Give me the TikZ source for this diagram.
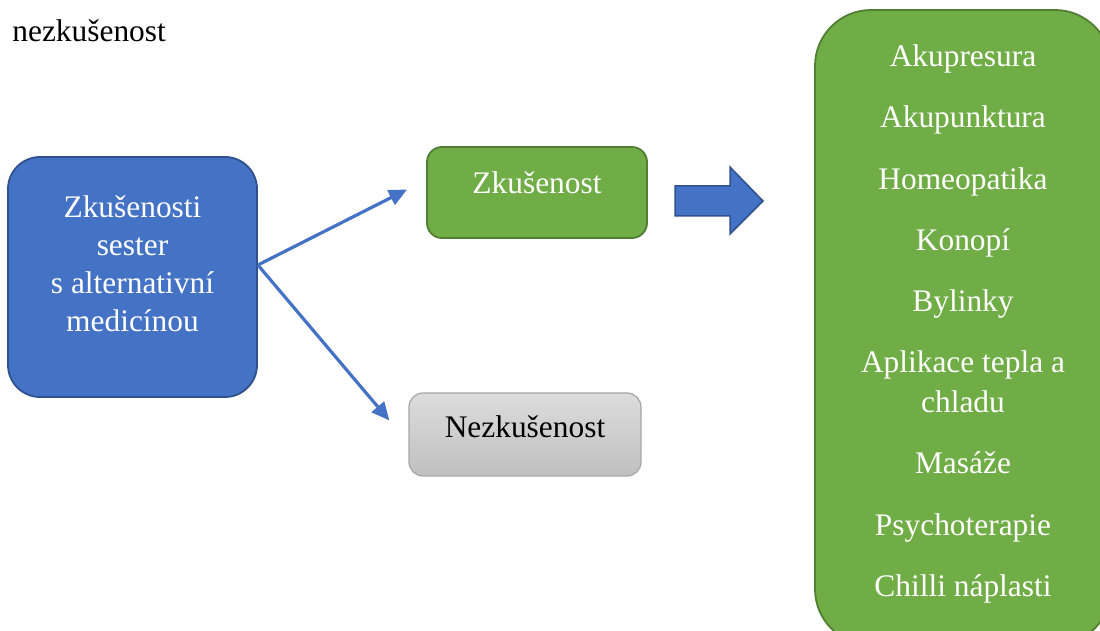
\documentclass[tikz,border=0pt]{standalone}
\usepackage{fontspec}
\setmainfont{Liberation Serif}
\usetikzlibrary{arrows.meta}
\definecolor{boxBlue}{HTML}{4472C4}
\definecolor{edgeBlue}{HTML}{2F528F}
\definecolor{boxGreen}{HTML}{70AD47}
\definecolor{edgeGreen}{HTML}{507E32}
\definecolor{grayTop}{HTML}{DCDCDC}
\definecolor{grayBottom}{HTML}{C0C0C0}
\definecolor{edgeGray}{HTML}{A6A6A6}

\begin{document}
\begin{tikzpicture}[x=0.5pt, y=-0.5pt,
    every node/.style={font=\fontsize{15.7}{19}\selectfont, inner sep=0pt},
    bluebox/.style={rectangle, rounded corners=16pt, fill=boxBlue, draw=edgeBlue, line width=0.9pt},
    greenbox/.style={rectangle, rounded corners=#1, fill=boxGreen, draw=edgeGreen, line width=0.9pt},
    graybox/.style={rectangle, rounded corners=7pt, top color=grayTop, bottom color=grayBottom, draw=edgeGray, line width=0.6pt},
    whitetext/.style={text=white, align=center},
    branch/.style={draw=boxBlue, line width=1.6pt, -{Triangle[length=9pt,width=8pt]}}
]
    \useasboundingbox (0,0) rectangle (1100,631);

    % draw title
    \node[anchor=base west] (title) at (12,42) {nezkušenost};

    % draw main box
    \node[bluebox, minimum width=124.5pt, minimum height=120pt] (nurses) at (132.5,277) {};
    \node[whitetext] (nursestext) at (132.5,264) {Zkušenosti\\sester\\s alternativní\\medicínou};

    % draw answer boxes
    \node[greenbox=7.5pt, minimum width=110pt, minimum height=45.5pt] (yes) at (537,192.5) {};
    \node[whitetext] (yestext) at (537,183) {Zkušenost};
    \node[graybox, minimum width=116pt, minimum height=41.5pt] (no) at (525,434.5) {};
    \node (notext) at (525,427) {Nezkušenost};

    % draw branches
    \coordinate (fork) at ([yshift=6pt]nurses.east);
    \coordinate (yestip) at ([xshift=-9.5pt,yshift=1.5pt]yes.west);
    \coordinate (notip) at ([xshift=-9.5pt,yshift=7pt]no.west);
    \draw[branch] (fork) -- (yestip);
    \draw[branch] (fork) -- (notip);

    % draw block arrow
    \draw[fill=boxBlue, draw=edgeBlue, line width=0.75pt] (675,186) -- (730,186) -- (730,167) -- (763,201) -- (730,234) -- (730,216) -- (675,216) -- cycle;

    % draw list of therapies
    \node[greenbox=28pt, minimum width=148pt, minimum height=317.5pt] (therapies) at (963,327.5) {};
    \node[whitetext] (list) at (963,324) {Akupresura\\[11.6pt]Akupunktura\\[11.6pt]Homeopatika\\[11.6pt]Konopí\\[11.6pt]Bylinky\\[11.6pt]Aplikace tepla a\\[1pt]chladu\\[11.6pt]Masáže\\[11.6pt]Psychoterapie\\[11.6pt]Chilli náplasti};
\end{tikzpicture}
\end{document}
